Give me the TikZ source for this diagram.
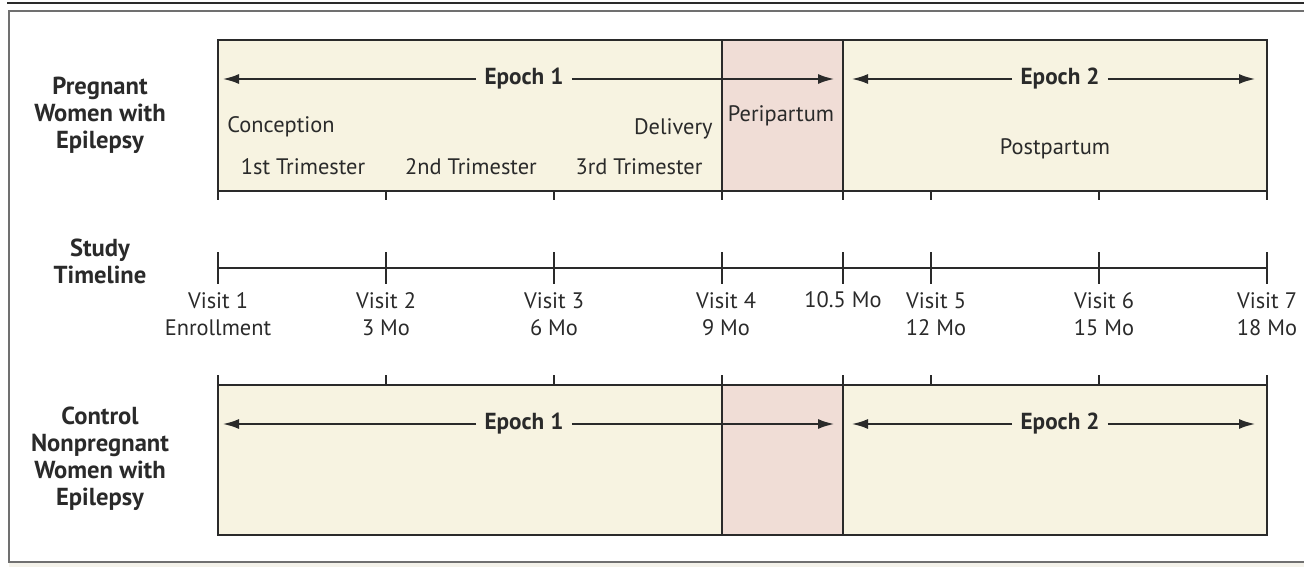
\documentclass[tikz,border=0pt]{standalone}
\usepackage{fontspec}
\setmainfont{PT Sans}
\definecolor{ejdark}{HTML}{2A2A2A}
\definecolor{ejframe}{HTML}{707070}
\definecolor{ejcream}{HTML}{F7F3E1}
\definecolor{ejpink}{HTML}{F0DDD6}
\definecolor{ejfoot}{HTML}{F4F2EA}
\usepackage{tikz}
\usetikzlibrary{arrows.meta, positioning}

\begin{document}
\begin{tikzpicture}[x=0.5pt, y=-0.5pt,
  band/.style={draw=ejdark, line width=0.9pt, fill=ejcream},
  peri/.style={draw=ejdark, line width=0.9pt, fill=ejpink},
  epoch/.style={font=\fontsize{11.6}{13}\selectfont\bfseries, text=ejdark, inner sep=4pt},
  note/.style={font=\fontsize{11.2}{13}\selectfont, text=ejdark, inner sep=0pt},
  group/.style={font=\fontsize{12.3}{13.5}\selectfont\bfseries, align=center, text=ejdark},
  visit/.style={font=\fontsize{11.2}{13.5}\selectfont, align=center, text=ejdark, inner sep=0pt},
  span/.style={-{Latex[length=8.5pt, width=5pt]}, line width=1.4pt, ejdark},
  tick/.style={line width=0.9pt, ejdark}
]
  \useasboundingbox (0,0) rectangle (1304,567);
  % page rules and frame
  \fill[ejfoot] (9,562) rectangle (1304,567);
  \draw[line width=1.1pt, ejdark] (7,3) -- (1304,3);
  \draw[line width=1.1pt, ejframe] (1304,11) -- (9,11) -- (9,562) -- (1304,562);

  % pregnant group
  \draw[band] (218,40) rectangle (1267,191);
  \draw[peri] (722,40) rectangle (843,191);
  \node[group] (preg) at (100,115) {Pregnant\\Women with\\Epilepsy};
  \node[epoch] (ep1a) at (524,79) {Epoch 1};
  \node[epoch] (ep2a) at (1060,79) {Epoch 2};
  \coordinate (ep1aL) at (222,79);
  \coordinate (ep1aR) at (835,79);
  \coordinate (ep2aL) at (851,79);
  \coordinate (ep2aR) at (1256,79);
  \draw[span] (ep1a) -- (ep1aL);
  \draw[span] (ep1a) -- (ep1aR);
  \draw[span] (ep2a) -- (ep2aL);
  \draw[span] (ep2a) -- (ep2aR);
  \node[note, anchor=west] (conc) at (227,127) {Conception};
  \node[note, anchor=east] (deliv) at (713,129) {Delivery};
  \node[note] (tri1) at (303,167) {1st Trimester};
  \node[note] (tri2) at (471,167) {2nd Trimester};
  \node[note] (tri3) at (639,167) {3rd Trimester};
  \node[note] (peripart) at (781,116) {Peripartum};
  \node[note] (postpart) at (1055,149) {Postpartum};
  \draw[tick] (218,191) -- (218,200);
  \draw[tick] (386,191) -- (386,200);
  \draw[tick] (554,191) -- (554,200);
  \draw[tick] (722,191) -- (722,200);
  \draw[tick] (843,191) -- (843,200);
  \draw[tick] (931,191) -- (931,200);
  \draw[tick] (1099,191) -- (1099,200);
  \draw[tick] (1267,191) -- (1267,200);

  % study timeline
  \node[group] (study) at (100,261) {Study\\Timeline};
  \draw[line width=1.3pt, ejdark] (218,268) -- (1267,268);
  \foreach \tx in {218,386,554,722,843,931,1099,1267}
    \draw[tick, line width=1.1pt] (\tx,252) -- (\tx,284);
  \node[visit] (v1) at (218,314) {Visit 1\\Enrollment};
  \node[visit] (v2) at (386,314) {Visit 2\\3 Mo};
  \node[visit] (v3) at (554,314) {Visit 3\\6 Mo};
  \node[visit] (v4) at (726,314) {Visit 4\\9 Mo};
  \node[visit] (mid) at (843,300) {10.5 Mo};
  \node[visit] (v5) at (936,314) {Visit 5\\12 Mo};
  \node[visit] (v6) at (1104,314) {Visit 6\\15 Mo};
  \node[visit] (v7) at (1267,314) {Visit 7\\18 Mo};

  % control group
  \draw[tick] (218,375) -- (218,385);
  \draw[tick] (386,375) -- (386,385);
  \draw[tick] (554,375) -- (554,385);
  \draw[tick] (722,375) -- (722,385);
  \draw[tick] (843,375) -- (843,385);
  \draw[tick] (931,375) -- (931,385);
  \draw[tick] (1099,375) -- (1099,385);
  \draw[tick] (1267,375) -- (1267,385);
  \draw[band] (218,385) rectangle (1267,535);
  \draw[peri] (722,385) rectangle (843,535);
  \node[group] (ctrl) at (100,459) {Control\\Nonpregnant\\Women with\\Epilepsy};
  \node[epoch] (ep1b) at (524,424) {Epoch 1};
  \node[epoch] (ep2b) at (1060,424) {Epoch 2};
  \coordinate (ep1bL) at (222,424);
  \coordinate (ep1bR) at (835,424);
  \coordinate (ep2bL) at (851,424);
  \coordinate (ep2bR) at (1256,424);
  \draw[span] (ep1b) -- (ep1bL);
  \draw[span] (ep1b) -- (ep1bR);
  \draw[span] (ep2b) -- (ep2bL);
  \draw[span] (ep2b) -- (ep2bR);
\end{tikzpicture}
\end{document}
